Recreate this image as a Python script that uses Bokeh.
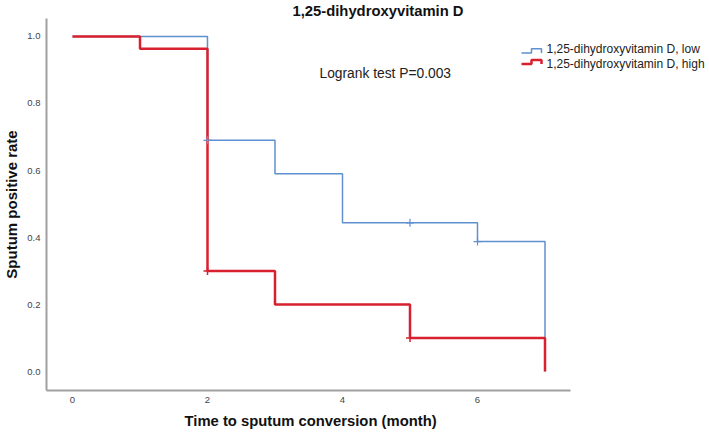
from bokeh.plotting import figure
from bokeh.models import Range1d, Label, PolyAnnotation, FixedTicker, CustomJSTickFormatter, Title
from bokeh.embed import file_html
from bokeh.resources import INLINE

# Kaplan-Meier data (months, survival proportion)
low_time = [0, 2, 3, 4, 6, 7]
low_surv = [1.0, 0.69, 0.59, 0.444, 0.388, 0.0]
low_cens_time = [2, 5, 6]
low_cens_surv = [0.69, 0.444, 0.388]

high_time = [0, 1, 2, 3, 5, 7]
high_surv = [1.0, 0.963, 0.30, 0.20, 0.10, 0.0]
high_cens_time = [2, 5]
high_cens_surv = [0.30, 0.10]

x_ticks = [0, 2, 4, 6]
y_ticks = [0.0, 0.2, 0.4, 0.6, 0.8, 1.0]

title_text = "1,25-dihydroxyvitamin D"
x_label = "Time to sputum conversion (month)"
y_label = "Sputum positive rate"
legend_labels = ["1,25-dihydroxyvitamin D, low", "1,25-dihydroxyvitamin D, high"]
logrank_text = "Logrank test P=0.003"

BLUE = "#5f90d0"
RED = "#d8202e"
FONT = "Liberation Sans"

X_AXIS_BOUNDS = (-0.385, 7.378)

p = figure(width=709, height=438, output_backend="svg", toolbar_location=None,
           x_range=Range1d(-0.385, 9.437), y_range=Range1d(-0.0565, 1.0536),
           min_border_left=46, min_border_right=0, min_border_top=17,
           min_border_bottom=48)
p.outline_line_color = None
p.grid.visible = False
p.background_fill_color = "white"

p.title.text = title_text
p.title.align = "center"
p.title.text_font = FONT
p.title.text_font_style = "bold"
p.title.text_font_size = "14.8px"
p.title.text_color = "#111111"
p.title.standoff = 0
p.title.offset = -2

for ax in (p.xaxis[0], p.yaxis[0]):
    ax.axis_line_color = "#a0a0a0"
    ax.axis_line_width = 2
    ax.major_tick_line_color = None
    ax.minor_tick_line_color = None
    ax.major_tick_out = 0
    ax.major_tick_in = 0
    ax.minor_tick_out = 0
    ax.minor_tick_in = 0
    ax.major_label_text_font = FONT
    ax.major_label_text_font_size = "9.5px"
    ax.major_label_text_color = "#444444"
    ax.axis_label_text_font = FONT
    ax.axis_label_text_font_style = "bold"
    ax.axis_label_text_font_size = "15px"
    ax.axis_label_text_color = "#111111"

p.xaxis.bounds = X_AXIS_BOUNDS
p.xaxis.ticker = FixedTicker(ticks=x_ticks)
p.yaxis.ticker = FixedTicker(ticks=y_ticks)
p.yaxis.formatter = CustomJSTickFormatter(code="return tick.toFixed(1);")
p.yaxis.axis_label = y_label
p.xaxis.major_label_standoff = 6
p.yaxis.major_label_standoff = 6
p.yaxis.axis_label_standoff = 4

p.add_layout(Title(text=x_label, align="left", offset=138, standoff=10,
                   text_font=FONT, text_font_style="bold",
                   text_font_size="14.8px", text_color="#111111"), "below")

p.step(low_time, low_surv, mode="after", line_color=BLUE, line_width=1.5)
p.step(high_time, high_surv, mode="after", line_color=RED, line_width=2.5)
p.scatter(low_cens_time, low_cens_surv, marker="cross", size=8,
          line_color=BLUE, line_width=1.2)
p.scatter(high_cens_time, high_cens_surv, marker="cross", size=8,
          line_color=RED, line_width=1.5)

# Logrank annotation
p.add_layout(Label(x=3.659, y=0.890, text=logrank_text, text_align="left",
                   text_baseline="middle", text_font=FONT,
                   text_font_size="13.8px", text_color="#222222"))

# Legend (step icons + text)
xl, xm, xr, xt = 6.652, 6.80, 6.948, 7.022
rows = [(BLUE, 0.951, 0.963, 0.951, 0.964, 1.5),
        (RED, 0.918, 0.930, 0.918, 0.917, 2.5)]
for (col, ylo, yhi, yend, ytxt, lw), lab in zip(rows, legend_labels):
    xs = [xl, xm, xm, xr, xr, xr, xm, xm]
    ys = [ylo, ylo, yhi, yhi, yend, yhi, yhi, ylo]
    p.add_layout(PolyAnnotation(xs=xs, ys=ys, fill_alpha=0, line_alpha=1,
                                line_color=col, line_width=lw))
    p.add_layout(Label(x=xt, y=ytxt, text=lab, text_align="left",
                       text_baseline="middle", text_font=FONT,
                       text_font_size="12px", text_color="#222222"))

open("out.html", "w").write(file_html(p, INLINE))
